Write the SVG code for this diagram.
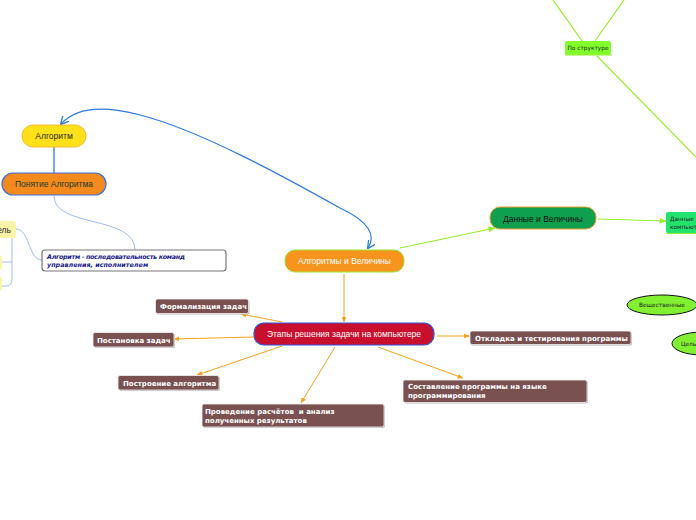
<svg xmlns="http://www.w3.org/2000/svg" width="696" height="520" viewBox="0 0 696 520">
<defs>
<style>
.lbl{font-family:"Liberation Sans","Open Sans",Arial,sans-serif;font-size:8.5px}
.br rect.b{fill:#7a5151;stroke:#f4f0f0;stroke-width:0.8}
.br rect.s{fill:#b8b8b8}
.br text{font-family:"DejaVu Sans",Verdana,sans-serif;font-weight:bold;font-size:7px;fill:#fff}
.sm{font-family:"DejaVu Sans",Verdana,sans-serif;font-size:5.8px;fill:#222}
.or{stroke:#f7a21d;stroke-width:1;fill:none}
.gr{stroke:#95ee2e;stroke-width:1.2;fill:none}
.lb{stroke:#9fbaf5;stroke-width:1;fill:none}
</style>
<marker id="ao" viewBox="0 0 10 10" refX="9" refY="5" markerWidth="6" markerHeight="6" orient="auto"><path d="M0,1 L10,5 L0,9 z" fill="#f7a21d"/></marker>
<marker id="ag" viewBox="0 0 10 10" refX="9" refY="5" markerWidth="6" markerHeight="6" orient="auto"><path d="M0,1 L10,5 L0,9 z" fill="#95ee2e"/></marker>
<marker id="ab" viewBox="0 0 10 10" refX="9" refY="5" markerWidth="7" markerHeight="7" orient="auto-start-reverse"><path d="M0,0 L10,5 L0,10" fill="none" stroke="#2f7be0" stroke-width="1.6"/></marker>
</defs>
<rect width="696" height="520" fill="#fff"/>

<g id="connectors">
<path d="M54,147 L54,173" stroke="#2f7be0" stroke-width="1.3" fill="none"/>
<path d="M368,248 C376,236 370,222 340,208 C290,180 200,130 140,115 C110,107 78,105 61,124" stroke="#2f7be0" stroke-width="1.2" fill="none" marker-start="url(#ab)" marker-end="url(#ab)"/>
<path class="lb" d="M54,196 C54,228 135,215 135,250"/>
<path class="lb" d="M16,229 C30,229 28,260 42,260"/>
<path class="lb" d="M12,238 L12,280 Q12,286 6,286 L2,286 M12,262 L0,262"/>
<path class="gr" d="M400,248 L495,228" marker-end="url(#ag)"/>
<path class="gr" d="M598,219 L666,221" marker-end="url(#ag)"/>
<path class="gr" d="M582,41 L553,0"/>
<path class="gr" d="M595,41 L624,0"/>
<path class="gr" d="M597,56 L696,157"/>
<path class="or" d="M344,274 L344,322" marker-end="url(#ao)"/>
<path class="or" d="M282,322 L241,314" marker-end="url(#ao)"/>
<path class="or" d="M254,337 L174,339" marker-end="url(#ao)"/>
<path class="or" d="M282,346 L197,375" marker-end="url(#ao)"/>
<path class="or" d="M335,347 L301,403" marker-end="url(#ao)"/>
<path class="or" d="M378,347 L463,378" marker-end="url(#ao)"/>
<path class="or" d="M437,336 L469,336" marker-end="url(#ao)"/>
</g>

<g id="n-algoritm">
<rect x="22" y="125" width="64" height="22" rx="11" fill="#ffe11a" stroke="#f6b93a" stroke-width="1"/>
<text class="lbl" x="54" y="139" text-anchor="middle" fill="#2a2a2a">Алгоритм</text>
</g>
<g id="n-ponyatie">
<rect x="2" y="173" width="104" height="22" rx="11" fill="#f28a1e" stroke="#3b6ee0" stroke-width="1.2"/>
<text class="lbl" x="54" y="187" text-anchor="middle" fill="#1c3a2a">Понятие Алгоритма</text>
</g>
<g id="n-note">
<rect x="42" y="250" width="184" height="21" rx="3" fill="#fff" stroke="#777" stroke-width="1.2"/>
<text x="47" y="258.5" font-family="DejaVu Sans,Verdana,sans-serif" font-size="6.4" font-weight="bold" font-style="italic" fill="#1a1a8c" textLength="138">Алгоритм - последовательность команд</text>
<text x="47" y="267" font-family="DejaVu Sans,Verdana,sans-serif" font-size="6.4" font-weight="bold" font-style="italic" fill="#1a1a8c">управления, исполнителем</text>
</g>
<g id="n-ispolnitel">
<rect x="-20" y="221" width="36" height="17" rx="3" fill="#faf4a6"/>
<text class="lbl" x="11" y="233" text-anchor="end" fill="#2a2a2a" font-size="8">ель</text>
</g>
<g id="n-left1"><rect x="-10" y="255" width="12" height="15" rx="3" fill="#faf4a6"/></g>
<g id="n-left2"><rect x="-10" y="276" width="12" height="15" rx="3" fill="#faf4a6"/></g>

<g id="n-alg-vel">
<rect x="285" y="250" width="119" height="22" rx="10" fill="#f7941d" stroke="#99e62e" stroke-width="1"/>
<text class="lbl" x="344.5" y="264" text-anchor="middle" fill="#fff">Алгоритмы и Величины</text>
</g>
<g id="n-dannye-vel">
<rect x="490" y="207" width="106" height="22" rx="10" fill="#0ea04e" stroke="#f0a030" stroke-width="1"/>
<text class="lbl" x="543" y="221.5" text-anchor="middle" fill="#111" font-size="9">Данные и Величины</text>
</g>
<g id="n-dannye">
<rect x="666" y="212" width="40" height="21" rx="2" fill="#22e36e"/>
<line x1="666" y1="233.5" x2="706" y2="233.5" stroke="#95ee2e" stroke-width="1"/>
<text class="sm" x="670" y="221">Данные -</text>
<text class="sm" x="670" y="229">компьют</text>
</g>
<g id="n-po-strukture">
<rect x="565" y="41" width="46" height="14" rx="2" fill="#80ff2a"/>
<line x1="565" y1="55" x2="612" y2="55" stroke="#95ee2e" stroke-width="1"/>
<text class="sm" x="588" y="50" text-anchor="middle">По структуре</text>
</g>
<g id="n-veshch">
<ellipse cx="662" cy="305" rx="35" ry="10" fill="#80f030" stroke="#111" stroke-width="1"/>
<text class="sm" x="662" y="307" text-anchor="middle">Вещественные</text>
</g>
<g id="n-celye">
<ellipse cx="702" cy="343.5" rx="30" ry="11.5" fill="#80f030" stroke="#111" stroke-width="1"/>
<text class="sm" x="681" y="345.5">Целые</text>
</g>

<g id="n-etapy">
<rect x="254" y="323" width="180" height="22" rx="10" fill="#c8102e" stroke="#2a55dd" stroke-width="1.2"/>
<text class="lbl" x="344" y="337" text-anchor="middle" fill="#fff">Этапы решения задачи на компьютере</text>
</g>
<g id="n-formal" class="br">
<rect class="s" x="156.5" y="300" width="93" height="14.5" rx="2"/>
<rect class="b" x="155.5" y="299" width="93" height="14.5" rx="2"/>
<text x="160" y="309">Формализация задач</text>
</g>
<g id="n-postanovka" class="br">
<rect class="s" x="94" y="333.5" width="81" height="14.5" rx="2"/>
<rect class="b" x="93" y="332.5" width="81" height="14.5" rx="2"/>
<text x="97" y="342.5">Постановка задач</text>
</g>
<g id="n-postroenie" class="br">
<rect class="s" x="119" y="376.5" width="101" height="14.5" rx="2"/>
<rect class="b" x="118" y="375.5" width="101" height="14.5" rx="2"/>
<text x="123" y="385.5">Построение алгоритма</text>
</g>
<g id="n-provedenie" class="br">
<rect class="s" x="203" y="405" width="182" height="23" rx="2"/>
<rect class="b" x="202" y="404" width="182" height="23" rx="2"/>
<text x="205" y="414" xml:space="preserve">Проведение расчётов  и анализ</text>
<text x="205" y="422.5">полученных результатов</text>
</g>
<g id="n-sostavlenie" class="br">
<rect class="s" x="404" y="381" width="184" height="22.5" rx="2"/>
<rect class="b" x="403" y="380" width="184" height="22.5" rx="2"/>
<text x="408" y="389">Составление программы на языке</text>
<text x="408" y="397.5">программирования</text>
</g>
<g id="n-otladka" class="br">
<rect class="s" x="471" y="332" width="161" height="13.5" rx="2"/>
<rect class="b" x="470" y="331" width="161" height="13.5" rx="2"/>
<text x="475" y="340.5">Откладка и тестирования программы</text>
</g>
</svg>
